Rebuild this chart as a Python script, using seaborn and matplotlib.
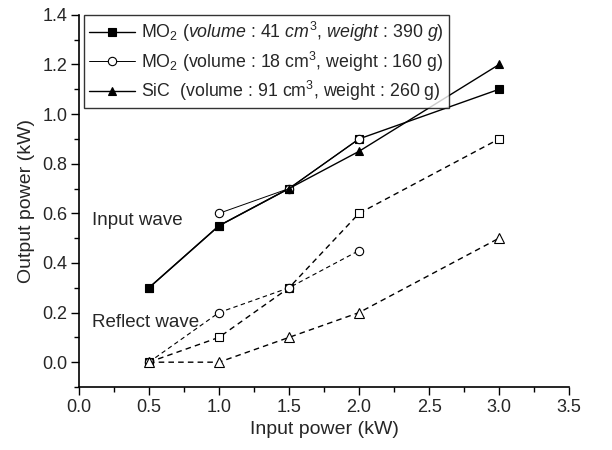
import matplotlib
matplotlib.use("Agg")
import matplotlib.pyplot as plt
from matplotlib.ticker import MultipleLocator, FormatStrFormatter
import seaborn as sns
import pandas as pd

sns.set_style("ticks")
plt.rcParams['font.family'] = ['Liberation Sans', 'DejaVu Sans']
plt.rcParams['mathtext.fontset'] = 'custom'
plt.rcParams['mathtext.rm'] = 'Liberation Sans'
plt.rcParams['mathtext.it'] = 'Liberation Sans:italic'

# Input wave data
in_mo2_41_x = [0.5, 1.0, 1.5, 2.0, 3.0]
in_mo2_41_y = [0.30, 0.55, 0.70, 0.90, 1.10]
in_mo2_18_x = [1.0, 1.5, 2.0]
in_mo2_18_y = [0.60, 0.70, 0.90]
in_sic_x = [0.5, 1.0, 1.5, 2.0, 3.0]
in_sic_y = [0.30, 0.55, 0.70, 0.85, 1.20]

# Reflect wave data
re_mo2_41_x = [0.5, 1.0, 1.5, 2.0, 3.0]
re_mo2_41_y = [0.00, 0.10, 0.30, 0.60, 0.90]
re_mo2_18_x = [0.5, 1.0, 1.5, 2.0]
re_mo2_18_y = [0.00, 0.20, 0.30, 0.45]
re_sic_x = [0.5, 1.0, 1.5, 2.0, 3.0]
re_sic_y = [0.00, 0.00, 0.10, 0.20, 0.50]

labels = [
    r"MO$_2$ ($\it{volume}$ : 41 $\it{cm}^3$, $\it{weight}$ : 390 $\it{g}$)",
    r"MO$_2$ (volume : 18 cm$^3$, weight : 160 g)",
    r"SiC  (volume : 91 cm$^3$, weight : 260 g)",
]

fig = plt.figure(figsize=(6.12, 4.5), dpi=100)
ax = fig.add_axes([0.129, 0.14, 0.801, 0.827])

def draw(x, y, marker, fill, ls, lw, label, ms):
    df = pd.DataFrame({"x": x, "y": y})
    sns.lineplot(data=df, x="x", y="y", ax=ax, color="black", linewidth=lw,
                 linestyle=ls, marker=marker, markersize=ms,
                 markerfacecolor=("black" if fill else "white"),
                 markeredgecolor="black", markeredgewidth=0.8,
                 label=label, estimator=None, sort=False)

draw(in_mo2_41_x, in_mo2_41_y, "s", True, "-", 1.0, labels[0], 5.5)
draw(in_mo2_18_x, in_mo2_18_y, "o", False, "-", 0.7, labels[1], 6)
draw(in_sic_x, in_sic_y, "^", True, "-", 1.0, labels[2], 6)

dash = (0, (4, 3))
draw(re_mo2_41_x, re_mo2_41_y, "s", False, dash, 1.0, "_nolegend_", 6)
draw(re_mo2_18_x, re_mo2_18_y, "o", False, dash, 0.8, "_nolegend_", 6)
draw(re_sic_x, re_sic_y, "^", False, dash, 1.0, "_nolegend_", 6.5)

ax.set_xlim(0, 3.5)
ax.set_ylim(-0.1, 1.4)
ax.xaxis.set_major_locator(MultipleLocator(0.5))
ax.xaxis.set_minor_locator(MultipleLocator(0.25))
ax.yaxis.set_major_locator(MultipleLocator(0.2))
ax.yaxis.set_minor_locator(MultipleLocator(0.1))
ax.xaxis.set_major_formatter(FormatStrFormatter('%.1f'))
ax.yaxis.set_major_formatter(FormatStrFormatter('%.1f'))
ax.tick_params(which='major', direction='out', length=5.5, width=1, labelsize=13, color='black', pad=3)
ax.tick_params(which='minor', direction='out', length=3.5, width=1, color='black')
for s in ['top', 'right']:
    ax.spines[s].set_visible(False)
for s in ['left', 'bottom']:
    ax.spines[s].set_linewidth(1.2)
    ax.spines[s].set_color('black')

ax.set_xlabel("Input power (kW)", fontsize=14, labelpad=4)
ax.set_ylabel("Output power (kW)", fontsize=14, labelpad=5)

ax.text(0.09, 0.57, "Input wave", fontsize=13.5, va='center', ha='left')
ax.text(0.09, 0.16, "Reflect wave", fontsize=13.5, va='center', ha='left')

leg = ax.legend(loc='upper left', bbox_to_anchor=(0.01, 1.0), fontsize=12.8,
                handlelength=2.6, handletextpad=0.3, labelspacing=0.3,
                borderpad=0.3, frameon=True, fancybox=False, borderaxespad=0)
leg.get_frame().set_edgecolor('black')
leg.get_frame().set_linewidth(1.0)

fig.savefig("out.png", dpi=100)
